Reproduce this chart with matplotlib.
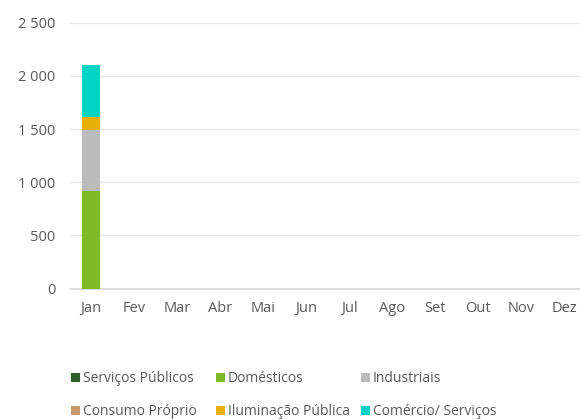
import matplotlib
matplotlib.use("Agg")
import matplotlib.pyplot as plt
from matplotlib.ticker import FuncFormatter
from matplotlib.patches import Patch
import numpy as np

months = ["Jan", "Fev", "Mar", "Abr", "Mai", "Jun", "Jul", "Ago", "Set", "Out", "Nov", "Dez"]
series_names = ["Serviços Públicos", "Domésticos", "Industriais",
                "Consumo Próprio", "Iluminação Pública", "Comércio/ Serviços"]
colors = ["#2E5E2A", "#7FB928", "#BBBBBB", "#C49A6C", "#E8B00A", "#00D4C4"]

servicos_publicos = [0] + [0] * 11
domesticos = [918] + [0] * 11
industriais = [576] + [0] * 11
consumo_proprio = [0] + [0] * 11
iluminacao_publica = [120] + [0] * 11
comercio_servicos = [488] + [0] * 11
values = [servicos_publicos, domesticos, industriais,
          consumo_proprio, iluminacao_publica, comercio_servicos]
yticks = [0, 500, 1000, 1500, 2000, 2500]

W, H = 580, 420
fig = plt.figure(figsize=(W / 100, H / 100), dpi=100)
ax = fig.add_axes([69.5 / W, 1 - 288.7 / H, (586 - 69.5) / W, (288.7 - 22.7) / H])

x = np.arange(len(months))
bottom = np.zeros(len(months))
for name, vals, c in zip(series_names, values, colors):
    v = np.array(vals, dtype=float)
    mask = v > 0
    ax.bar(x[mask], v[mask], bottom=bottom[mask], width=0.44, color=c, zorder=3)
    bottom += v

ax.set_xlim(-0.5, len(months) - 0.5)
ax.set_ylim(0, 2500)
ax.set_yticks(yticks)
ax.yaxis.set_major_formatter(FuncFormatter(lambda v, p: f"{int(v):,}".replace(",", " ")))
ax.set_xticks(x)
ax.set_xticklabels(months)
ax.grid(axis="y", color="#E6E6E6", linewidth=1.0, zorder=0)
ax.set_axisbelow(True)
for s in ["top", "right", "left"]:
    ax.spines[s].set_visible(False)
ax.spines["bottom"].set_color("#D9D9D9")
ax.spines["bottom"].set_linewidth(1.3)
ax.tick_params(axis="both", length=0, colors="#595959", labelsize=10.5)
ax.tick_params(axis="y", pad=10)
ax.tick_params(axis="x", pad=9)
for lbl in ax.get_xticklabels() + ax.get_yticklabels():
    lbl.set_fontfamily("Open Sans")

# legend: three columns, two rows
col_x = [71 / W, 216 / W, 361 / W]
for ci in range(3):
    handles = [Patch(facecolor=colors[ci]), Patch(facecolor=colors[ci + 3])]
    labels = [series_names[ci], series_names[ci + 3]]
    fig.legend(handles, labels, loc="upper left", bbox_to_anchor=(col_x[ci], 1 - 371 / H),
               frameon=False, ncol=1, handlelength=0.65, handleheight=0.6, handletextpad=0.2,
               labelspacing=1.3, borderpad=0, borderaxespad=0,
               prop={"family": "Open Sans", "size": 10}, labelcolor="#595959")

fig.savefig("out.png", dpi=100)
